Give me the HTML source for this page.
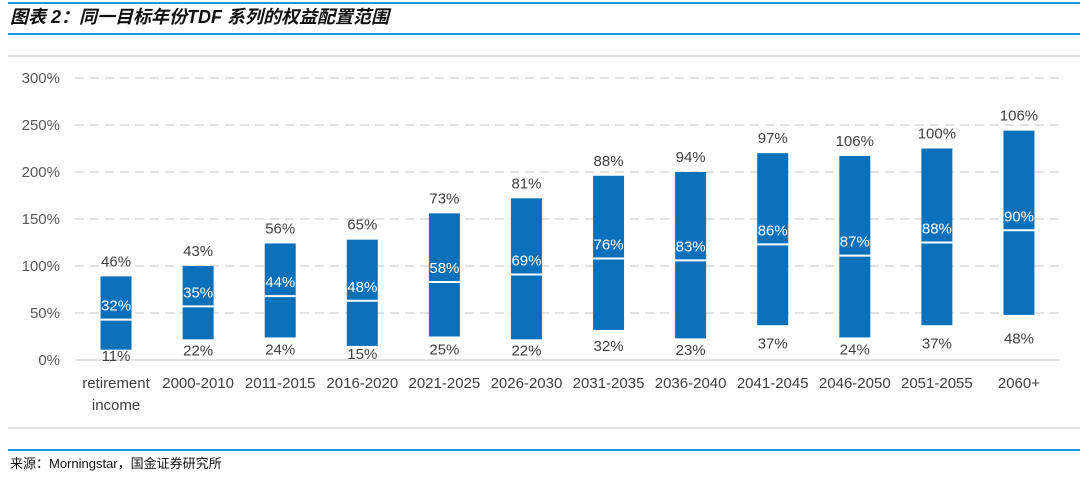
<!DOCTYPE html>
<html><head><meta charset="utf-8"><style>
body{margin:0;background:#fff;width:1080px;height:477px;overflow:hidden;font-family:"Liberation Sans","Noto Sans CJK SC",sans-serif}
</style></head><body>
<svg width="1080" height="477">
<line x1="8" y1="3" x2="1080" y2="3" stroke="#1c9be0" stroke-width="2"/>
<text x="10" y="23" font-size="18" font-weight="bold" font-style="italic" fill="#111" font-family="'Liberation Sans','Noto Sans CJK SC',sans-serif">图表 2：同一目标年份TDF 系列的权益配置范围</text>
<line x1="8" y1="34" x2="1080" y2="34" stroke="#1c9be0" stroke-width="2"/>
<line x1="8" y1="56" x2="1080" y2="56" stroke="#d9d9d9" stroke-width="1.5"/>
<line x1="8" y1="428" x2="1080" y2="428" stroke="#d9d9d9" stroke-width="1.5"/>
<line x1="8" y1="450" x2="1080" y2="450" stroke="#1c9be0" stroke-width="2"/>
<text x="10" y="468" font-size="13" fill="#111">来源：Morningstar，国金证券研究所</text>
<g id="plot"></g>
</svg>
<script>
const categories=["retirement|income","2000-2010","2011-2015","2016-2020","2021-2025","2026-2030","2031-2035","2036-2040","2041-2045","2046-2050","2051-2055","2060+"];
const baseVals=[11,22,24,15,25,22,32,23,37,24,37,48];
const lowerVals=[32,35,44,48,58,69,76,83,86,87,88,90];
const upperVals=[46,43,56,65,73,81,88,94,97,106,100,106];
const yTicks=[0,50,100,150,200,250,300];
const NS="http://www.w3.org/2000/svg";
const g=document.getElementById('plot');
const x0=75,x1=1060,yZero=360,pxPer=0.94;
const step=(x1-x0)/categories.length;
const bw=31;
function y(v){return yZero-v*pxPer;}
function xc(i){return x0+step*(i+0.5);}
function mk(tag,attrs,txt){const e=document.createElementNS(NS,tag);for(const k in attrs)e.setAttribute(k,attrs[k]);if(txt!==undefined)e.textContent=txt;g.appendChild(e);return e;}
yTicks.forEach(t=>{
 if(t>0){const l=mk('line',{x1:x0,x2:x1,y1:y(t),y2:y(t),stroke:'#d9d9d9','stroke-width':1.5,'stroke-dasharray':'9,6'});
 
 }
 const tx=mk('text',{x:60,y:y(t)+5,'font-size':15,fill:'#595959','text-anchor':'end'},t+'%');
 
 
});
const ax=mk('line',{x1:x0,x2:x1,y1:yZero,y2:yZero,stroke:'#d9d9d9','stroke-width':1.5});


categories.forEach((c,i)=>{
 const cx=xc(i),b=baseVals[i],lo=lowerVals[i],up=upperVals[i];
 const top=b+lo+up;
 const r=mk('rect',{x:cx-bw/2,y:y(top),width:bw,height:(lo+up)*pxPer,fill:'#0a70ba'});
 
 
 const ml=mk('line',{x1:cx-bw/2,x2:cx+bw/2,y1:y(b+lo),y2:y(b+lo),stroke:'#fff','stroke-width':2});
 
 
 const t1=mk('text',{x:cx,y:y(top)-10,'font-size':15,fill:'#404040','text-anchor':'middle'},up+'%');
 
 
 const t2=mk('text',{x:cx,y:y(b+lo)-9,'font-size':15,fill:'#fff','text-anchor':'middle'},lo+'%');
 
 
 const t3=mk('text',{x:cx,y:y(b/2)+6,'font-size':15,fill:'#404040','text-anchor':'middle'},b+'%');
 
 
 c.split('|').forEach((part,k)=>{
  const tl=mk('text',{x:cx,y:388+k*22,'font-size':15,fill:'#404040','text-anchor':'middle'},part);
  
  
 });
});
</script>
</body></html>
